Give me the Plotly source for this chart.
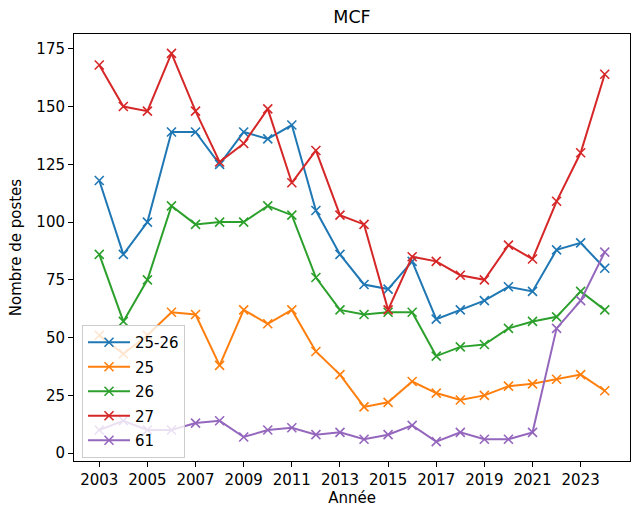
import plotly.graph_objects as go

years = list(range(2003, 2025))
s_25_26 = [118, 86, 100, 139, 139, 125, 139, 136, 142, 105, 86, 73, 71, 83, 58, 62, 66, 72, 70, 88, 91, 80]
s_25 = [51, 43, 51, 61, 60, 38, 62, 56, 62, 44, 34, 20, 22, 31, 26, 23, 25, 29, 30, 32, 34, 27]
s_26 = [86, 57, 75, 107, 99, 100, 100, 107, 103, 76, 62, 60, 61, 61, 42, 46, 47, 54, 57, 59, 70, 62]
s_27 = [168, 150, 148, 173, 148, 126, 134, 149, 117, 131, 103, 99, 62, 85, 83, 77, 75, 90, 84, 109, 130, 164]
s_61 = [10, 14, 10, 10, 13, 14, 7, 10, 11, 8, 9, 6, 8, 12, 5, 9, 6, 6, 9, 54, 66, 87]

series_names = ["25-26", "25", "26", "27", "61"]
series_values = [s_25_26, s_25, s_26, s_27, s_61]
colors = ["#1f77b4", "#ff7f0e", "#2ca02c", "#d62728", "#9467bd"]
x_ticks = list(range(2003, 2024, 2))
y_ticks = list(range(0, 176, 25))

W, H = 644, 507
L, R, T, B = 74, 14, 34, 46
FS = 15
FONT = "DejaVu Sans"

fig = go.Figure()
for name, vals, c in zip(series_names, series_values, colors):
    fig.add_trace(go.Scatter(
        x=years, y=vals, name=name, mode="lines+markers", legendgroup=name,
        line=dict(color=c, width=2),
        marker=dict(symbol="x-thin", size=9, line=dict(color=c, width=1.6), color=c),
    ))

axis_common = dict(
    showline=True, linecolor="black", linewidth=1, mirror=True,
    ticks="outside", ticklen=5, tickwidth=1, tickcolor="black",
    showgrid=False, zeroline=False, automargin=False,
    tickfont=dict(family=FONT, size=FS, color="black"),
)

fig.update_layout(
    width=W, height=H,
    margin=dict(l=L, r=R, t=T, b=B),
    paper_bgcolor="white", plot_bgcolor="white",
    title=dict(text="MCF", x=(L + (W - R)) / 2 / W, xanchor="center",
               y=1 - 17 / H, yanchor="middle", yref="container",
               font=dict(family=FONT, size=17.5, color="black")),
    xaxis=dict(range=[2001.95, 2025.05], tickvals=x_ticks,
               title=dict(text="Année", font=dict(family=FONT, size=FS, color="black"), standoff=16),
               **axis_common),
    yaxis=dict(range=[-3.4, 181.4], tickvals=y_ticks,
               title=dict(text="Nombre de postes", font=dict(family=FONT, size=FS, color="black"), standoff=11),
               **axis_common),
    legend=dict(x=(82 - L) / (W - L - R), y=1 - (325 - T) / (H - T - B),
                xanchor="left", yanchor="top", traceorder="grouped",
                bgcolor="rgba(255,255,255,0.8)", bordercolor="#cccccc", borderwidth=1,
                font=dict(family=FONT, size=FS, color="black"),
                tracegroupgap=2, itemwidth=42),
    showlegend=True,
)

fig.write_html("out.html", config={"displayModeBar": False},
               post_script="document.body.style.margin='0';document.body.style.overflow='hidden';")
